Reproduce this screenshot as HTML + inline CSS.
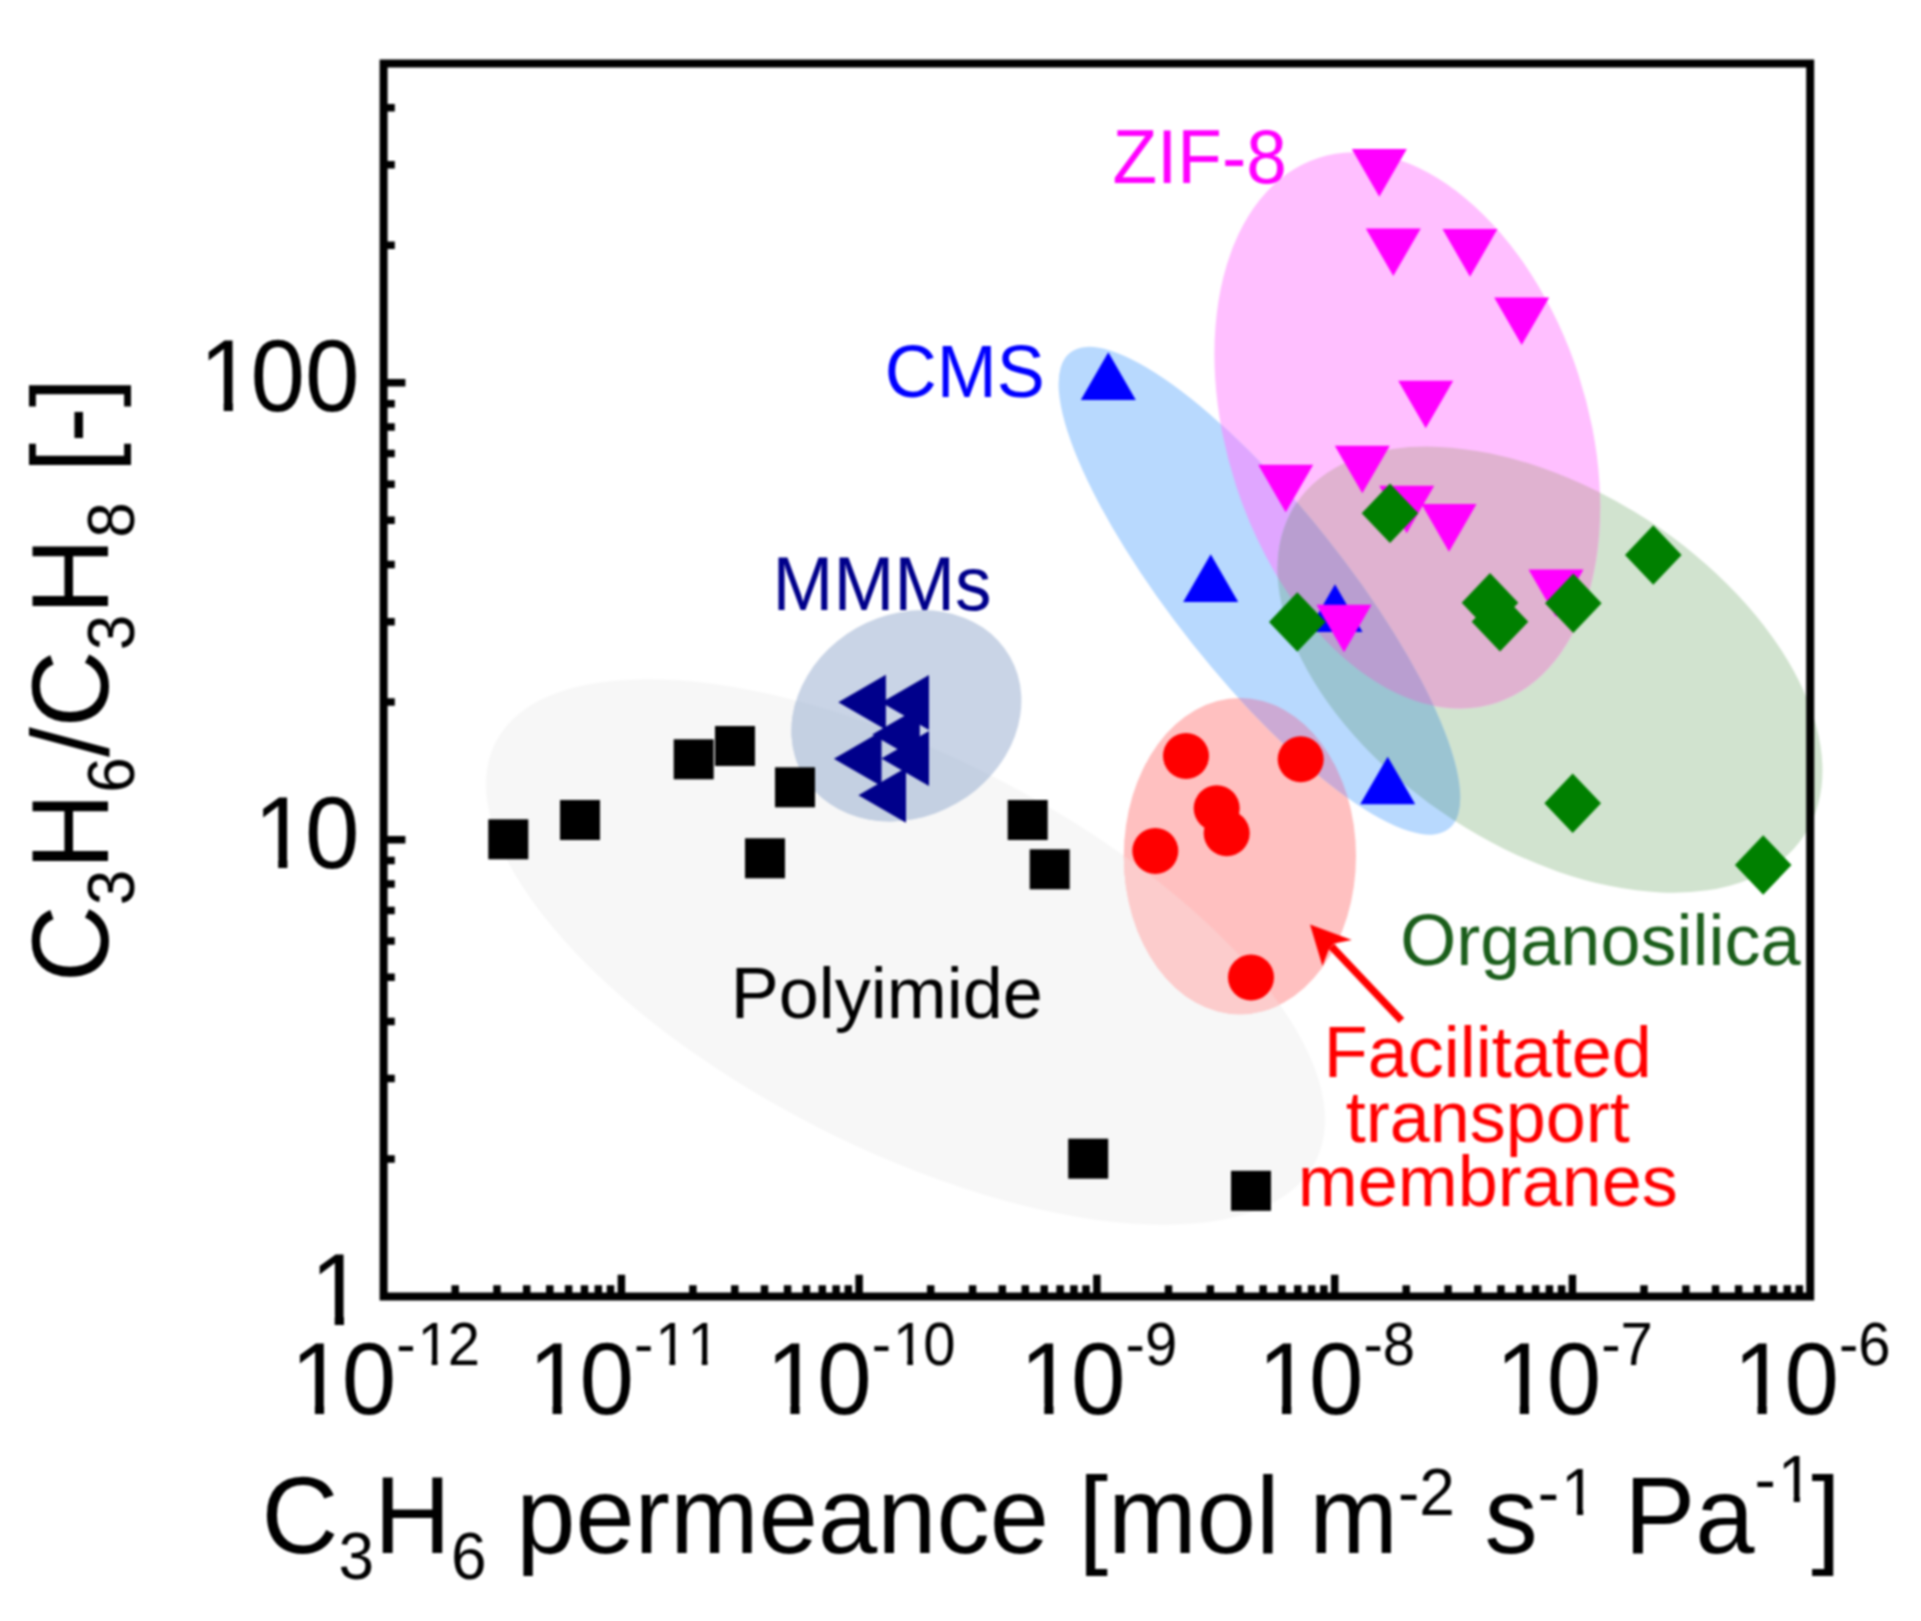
<!DOCTYPE html>
<html lang="en"><head><meta charset="utf-8"><title>C3H6/C3H8 separation performance</title>
<style>html,body{margin:0;padding:0;background:#fff;}body{width:1921px;height:1621px;overflow:hidden;}svg{display:block;filter:blur(0.9px);}text{font-family:"Liberation Sans", Arial, Helvetica, sans-serif;}</style></head><body>
<svg width="1921" height="1621" viewBox="0 0 1921 1621">
<rect width="1921" height="1621" fill="#fff"/>
<defs>
<clipPath id="cR"><ellipse cx="1239.9" cy="856.1" rx="116.1" ry="158.2"/></clipPath>
<clipPath id="cP"><ellipse cx="905.5" cy="952.0" rx="460.5" ry="196.0" transform="rotate(27.1 905.5 952.0)"/></clipPath>
<clipPath id="cMM"><ellipse cx="906.4" cy="715.7" rx="119.2" ry="100.9" transform="rotate(-29.7 906.4 715.7)"/></clipPath>
<clipPath id="cB"><ellipse cx="1259.4" cy="590.8" rx="304.2" ry="85.4" transform="rotate(51.5 1259.4 590.8)"/></clipPath>
<clipPath id="cM"><ellipse cx="1407.3" cy="430.3" rx="286.6" ry="180.0" transform="rotate(71.9 1407.3 430.3)"/></clipPath>
<clipPath id="cG"><ellipse cx="1550.0" cy="669.7" rx="303.4" ry="178.7" transform="rotate(33.0 1550.0 669.7)"/></clipPath>
</defs>
<g id="regions">
<ellipse cx="905.5" cy="952.0" rx="460.5" ry="196.0" transform="rotate(27.1 905.5 952.0)" fill="#f7f7f7"/>
<ellipse cx="1239.9" cy="856.1" rx="116.1" ry="158.2" fill="#ffc0c0"/>
<g clip-path="url(#cP)"><ellipse cx="1239.9" cy="856.1" rx="116.1" ry="158.2" fill="#fccccc"/></g>
<ellipse cx="906.4" cy="715.7" rx="119.2" ry="100.9" transform="rotate(-29.7 906.4 715.7)" fill="#c9d4e6"/>
<g clip-path="url(#cP)"><ellipse cx="906.4" cy="715.7" rx="119.2" ry="100.9" transform="rotate(-29.7 906.4 715.7)" fill="#c4d0e2"/></g>
<ellipse cx="1550.0" cy="669.7" rx="303.4" ry="178.7" transform="rotate(33.0 1550.0 669.7)" fill="#d1e3cf"/>
<ellipse cx="1407.3" cy="430.3" rx="286.6" ry="180.0" transform="rotate(71.9 1407.3 430.3)" fill="#ffbfff"/>
<ellipse cx="1259.4" cy="590.8" rx="304.2" ry="85.4" transform="rotate(51.5 1259.4 590.8)" fill="#b8d9fe"/>
<g clip-path="url(#cM)"><ellipse cx="1550.0" cy="669.7" rx="303.4" ry="178.7" transform="rotate(33.0 1550.0 669.7)" fill="#e0b2d0"/></g>
<g clip-path="url(#cB)"><ellipse cx="1407.3" cy="430.3" rx="286.6" ry="180.0" transform="rotate(71.9 1407.3 430.3)" fill="#e0a6ff"/></g>
<g clip-path="url(#cB)"><ellipse cx="1550.0" cy="669.7" rx="303.4" ry="178.7" transform="rotate(33.0 1550.0 669.7)" fill="#9bc4d2"/></g>
<g clip-path="url(#cB)"><g clip-path="url(#cM)"><ellipse cx="1550.0" cy="669.7" rx="303.4" ry="178.7" transform="rotate(33.0 1550.0 669.7)" fill="#b99ed0"/></g></g>
<g clip-path="url(#cB)"><ellipse cx="1239.9" cy="856.1" rx="116.1" ry="158.2" fill="#ccaad4"/></g>
</g>
<g id="polyimide" fill="#000">
<rect x="488.3" y="819.3" width="40" height="40"/>
<rect x="560.0" y="800.0" width="40" height="40"/>
<rect x="673.7" y="739.3" width="40" height="40"/>
<rect x="715.0" y="726.0" width="40" height="40"/>
<rect x="775.0" y="767.3" width="40" height="40"/>
<rect x="745.0" y="838.3" width="40" height="40"/>
<rect x="1007.7" y="800.0" width="40" height="40"/>
<rect x="1029.7" y="849.3" width="40" height="40"/>
<rect x="1068.2" y="1138.7" width="40" height="40"/>
<rect x="1231.0" y="1170.8" width="40" height="40"/>
</g>
<g id="ftm" fill="#ff0000">
<circle cx="1186.0" cy="756.0" r="23"/>
<circle cx="1300.7" cy="759.3" r="23"/>
<circle cx="1216.7" cy="808.3" r="23"/>
<circle cx="1226.7" cy="833.3" r="23"/>
<circle cx="1155.3" cy="851.0" r="23"/>
<circle cx="1251.0" cy="977.4" r="23"/>
</g>
<g id="cms" fill="#0000ff">
<polygon points="1108.3,352.3 1080.8,399.9 1135.8,399.9"/>
<polygon points="1210.7,554.3 1183.2,601.9 1238.2,601.9"/>
<polygon points="1335.0,584.3 1307.5,631.9 1362.5,631.9"/>
<polygon points="1387.7,756.7 1360.2,804.3 1415.2,804.3"/>
</g>
<g id="zif8" fill="#ff00ff">
<polygon points="1379.3,196.7 1351.8,149.1 1406.8,149.1"/>
<polygon points="1393.3,276.0 1365.8,228.4 1420.8,228.4"/>
<polygon points="1470.0,276.7 1442.5,229.1 1497.5,229.1"/>
<polygon points="1521.7,345.0 1494.2,297.4 1549.2,297.4"/>
<polygon points="1425.7,428.3 1398.2,380.7 1453.2,380.7"/>
<polygon points="1362.3,493.3 1334.8,445.7 1389.8,445.7"/>
<polygon points="1285.7,512.3 1258.2,464.7 1313.2,464.7"/>
<polygon points="1406.7,533.3 1379.2,485.7 1434.2,485.7"/>
<polygon points="1449.0,551.7 1421.5,504.1 1476.5,504.1"/>
<polygon points="1556.0,617.0 1528.5,569.4 1583.5,569.4"/>
<polygon points="1344.0,652.3 1316.5,604.7 1371.5,604.7"/>
</g>
<g id="organosilica" fill="#008000">
<polygon points="1390.0,483.6 1418.3,513.3 1390.0,543.0 1361.7,513.3"/>
<polygon points="1297.3,592.3 1325.6,622.0 1297.3,651.7 1269.0,622.0"/>
<polygon points="1490.0,573.0 1518.3,602.7 1490.0,632.4 1461.7,602.7"/>
<polygon points="1500.0,592.0 1528.3,621.7 1500.0,651.4 1471.7,621.7"/>
<polygon points="1573.3,573.6 1601.6,603.3 1573.3,633.0 1545.0,603.3"/>
<polygon points="1653.3,525.3 1681.6,555.0 1653.3,584.7 1625.0,555.0"/>
<polygon points="1572.7,773.6 1601.0,803.3 1572.7,833.0 1544.4,803.3"/>
<polygon points="1763.2,835.3 1791.5,865.0 1763.2,894.7 1734.9,865.0"/>
</g>
<g id="mmms" fill="#00008b">
<polygon points="838.3,702.2 885.9,674.7 885.9,729.7"/>
<polygon points="881.4,702.5 929.0,675.0 929.0,730.0"/>
<polygon points="833.9,758.8 881.5,731.3 881.5,786.3"/>
<polygon points="881.4,758.5 929.0,731.0 929.0,786.0"/>
<polygon points="858.4,795.3 906.0,767.8 906.0,822.8"/>
<polygon points="872.2,734.6 919.8,707.1 919.8,762.1"/>
</g>
<g id="axes" stroke="#000" fill="none">
<rect x="383.6" y="63.5" width="1426.6" height="1233.0" stroke-width="8.0"/>
<path d="M455.2 1296.5V1285.3M497.0 1296.5V1285.3M526.7 1296.5V1285.3M549.8 1296.5V1285.3M568.6 1296.5V1285.3M584.5 1296.5V1285.3M598.3 1296.5V1285.3M610.5 1296.5V1285.3M621.4 1296.5V1274.7M692.9 1296.5V1285.3M734.8 1296.5V1285.3M764.5 1296.5V1285.3M787.6 1296.5V1285.3M806.4 1296.5V1285.3M822.3 1296.5V1285.3M836.1 1296.5V1285.3M848.3 1296.5V1285.3M859.1 1296.5V1274.7M930.7 1296.5V1285.3M972.6 1296.5V1285.3M1002.3 1296.5V1285.3M1025.3 1296.5V1285.3M1044.2 1296.5V1285.3M1060.1 1296.5V1285.3M1073.9 1296.5V1285.3M1086.0 1296.5V1285.3M1096.9 1296.5V1274.7M1168.5 1296.5V1285.3M1210.3 1296.5V1285.3M1240.0 1296.5V1285.3M1263.1 1296.5V1285.3M1281.9 1296.5V1285.3M1297.8 1296.5V1285.3M1311.6 1296.5V1285.3M1323.8 1296.5V1285.3M1334.7 1296.5V1274.7M1406.2 1296.5V1285.3M1448.1 1296.5V1285.3M1477.8 1296.5V1285.3M1500.9 1296.5V1285.3M1519.7 1296.5V1285.3M1535.6 1296.5V1285.3M1549.4 1296.5V1285.3M1561.6 1296.5V1285.3M1572.4 1296.5V1274.7M1644.0 1296.5V1285.3M1685.9 1296.5V1285.3M1715.6 1296.5V1285.3M1738.6 1296.5V1285.3M1757.5 1296.5V1285.3M1773.4 1296.5V1285.3M1787.2 1296.5V1285.3M1799.3 1296.5V1285.3M383.6 1159.0H394.8M383.6 1078.5H394.8M383.6 1021.5H394.8M383.6 977.2H394.8M383.6 941.0H394.8M383.6 910.4H394.8M383.6 883.9H394.8M383.6 860.6H394.8M383.6 839.7H405.4M383.6 702.1H394.8M383.6 621.7H394.8M383.6 564.6H394.8M383.6 520.3H394.8M383.6 484.2H394.8M383.6 453.6H394.8M383.6 427.1H394.8M383.6 403.7H394.8M383.6 382.8H405.4M383.6 245.3H394.8M383.6 164.8H394.8M383.6 107.8H394.8" stroke-width="7.5"/>
</g>
<g id="ticklabels" fill="#000" font-size="98">
<text transform="translate(287.2 1413.5) scale(1 1.04)"><tspan dx="3.25">1</tspan><tspan dx="-3.25">0</tspan><tspan font-size="58" dy="-46.6">-<tspan dx="1.93">1</tspan><tspan dx="-1.93">2</tspan></tspan></text>
<text transform="translate(525.0 1413.5) scale(1 1.04)"><tspan dx="3.25">1</tspan><tspan dx="-3.25">0</tspan><tspan font-size="58" dy="-46.6">-<tspan dx="1.93">1</tspan><tspan dx="0.00">1</tspan></tspan></text>
<text transform="translate(762.7 1413.5) scale(1 1.04)"><tspan dx="3.25">1</tspan><tspan dx="-3.25">0</tspan><tspan font-size="58" dy="-46.6">-<tspan dx="1.93">1</tspan><tspan dx="-1.93">0</tspan></tspan></text>
<text transform="translate(1016.6 1413.5) scale(1 1.04)"><tspan dx="3.25">1</tspan><tspan dx="-3.25">0</tspan><tspan font-size="58" dy="-46.6">-9</tspan></text>
<text transform="translate(1254.4 1413.5) scale(1 1.04)"><tspan dx="3.25">1</tspan><tspan dx="-3.25">0</tspan><tspan font-size="58" dy="-46.6">-8</tspan></text>
<text transform="translate(1492.2 1413.5) scale(1 1.04)"><tspan dx="3.25">1</tspan><tspan dx="-3.25">0</tspan><tspan font-size="58" dy="-46.6">-7</tspan></text>
<text transform="translate(1729.9 1413.5) scale(1 1.04)"><tspan dx="3.25">1</tspan><tspan dx="-3.25">0</tspan><tspan font-size="58" dy="-46.6">-6</tspan></text>
<text transform="translate(196.1 411.3) scale(1 1.04)"><tspan dx="3.25">1</tspan><tspan dx="-3.25">0</tspan>0</text>
<text transform="translate(250.6 868.2) scale(1 1.04)"><tspan dx="3.25">1</tspan><tspan dx="-3.25">0</tspan></text>
<text transform="translate(307.1 1325.0) scale(1 1.04)"><tspan dx="3.25">1</tspan></text>
</g>
<text id="xtitle" transform="translate(261.6 1553) scale(1 1.03)" font-size="106.5" fill="#000">C<tspan font-size="64" dy="25.2">3</tspan><tspan dy="-25.2">H</tspan><tspan font-size="64" dy="25.2">6</tspan><tspan dy="-25.2"> permeance [mol m</tspan><tspan font-size="64" dy="-36.9">-2</tspan><tspan dy="36.9"> s</tspan><tspan font-size="64" dy="-36.9">-<tspan dx="2.1">1</tspan></tspan><tspan dy="36.9" dx="-2.1"> Pa</tspan><tspan font-size="64" dy="-49.5">-<tspan dx="2.1">1</tspan></tspan><tspan dy="49.5" dx="-2.1">]</tspan></text>
<text id="ytitle" transform="translate(108 680) rotate(-90) scale(1 1.03)" text-anchor="middle" font-size="106.7" fill="#000">C<tspan font-size="64" dy="25.2">3</tspan><tspan dy="-25.2">H</tspan><tspan font-size="64" dy="25.2">6</tspan><tspan dy="-25.2">/C</tspan><tspan font-size="64" dy="25.2">3</tspan><tspan dy="-25.2">H</tspan><tspan font-size="64" dy="25.2">8</tspan><tspan dy="-25.2"> [-]</tspan></text>
<g id="labels" font-size="72">
<text x="730.7" y="1017.8" fill="#000">Polyimide</text>
<text transform="translate(772.6 610.2) scale(1 1.03)" font-size="73" fill="#00008b">MMMs</text>
<text transform="translate(884.7 397.4) scale(1 1.04)" fill="#0000ff">CMS</text>
<text transform="translate(1112.5 182.7) scale(1 1.04)" font-size="73" fill="#ff00ff">ZIF-8</text>
<text x="1400.3" y="965.2" fill="#1b5e1b">Organosilica</text>
<g fill="#ff0000" text-anchor="middle"><text x="1487.8" y="1077.1">Facilitated</text><text x="1487.8" y="1141.8">transport</text><text x="1487.8" y="1205.8">membranes</text></g>
</g>
<g id="arrow"><path d="M1401.5 1020.5L1331.5 946.5" stroke="#ff0000" stroke-width="7.5" fill="none"/><polygon points="1310,924.6 1351.8,939.9 1334,943.5 1329,949 1322.5,966" fill="#ff0000"/></g>
<g id="footfix" fill="#fff"><rect x="295.9" y="1403.9" width="19.0" height="10.6"/><rect x="324.1" y="1403.9" width="18.1" height="10.6"/><rect x="420.6" y="1358.5" width="11.1" height="7.5"/><rect x="437.5" y="1358.5" width="10.7" height="7.5"/><rect x="533.6" y="1403.9" width="19.0" height="10.6"/><rect x="561.8" y="1403.9" width="18.1" height="10.6"/><rect x="658.4" y="1358.5" width="11.1" height="7.5"/><rect x="675.2" y="1358.5" width="10.7" height="7.5"/><rect x="690.7" y="1358.5" width="11.1" height="7.5"/><rect x="707.5" y="1358.5" width="10.7" height="7.5"/><rect x="771.4" y="1403.9" width="19.0" height="10.6"/><rect x="799.6" y="1403.9" width="18.1" height="10.6"/><rect x="896.2" y="1358.5" width="11.1" height="7.5"/><rect x="913.0" y="1358.5" width="10.7" height="7.5"/><rect x="1025.3" y="1403.9" width="19.0" height="10.6"/><rect x="1053.5" y="1403.9" width="18.1" height="10.6"/><rect x="1263.0" y="1403.9" width="19.0" height="10.6"/><rect x="1291.3" y="1403.9" width="18.1" height="10.6"/><rect x="1500.8" y="1403.9" width="19.0" height="10.6"/><rect x="1529.0" y="1403.9" width="18.1" height="10.6"/><rect x="1738.6" y="1403.9" width="19.0" height="10.6"/><rect x="1766.8" y="1403.9" width="18.1" height="10.6"/><rect x="204.7" y="401.7" width="19.0" height="10.6"/><rect x="232.9" y="401.7" width="18.1" height="10.6"/><rect x="259.2" y="858.5" width="19.0" height="10.6"/><rect x="287.4" y="858.5" width="18.1" height="10.6"/><rect x="315.7" y="1315.4" width="19.0" height="10.6"/><rect x="344.0" y="1315.4" width="18.1" height="10.6"/><rect x="1564.6" y="1508.1" width="12.3" height="7.9"/><rect x="1583.2" y="1508.1" width="11.9" height="7.9"/><rect x="1781.4" y="1495.1" width="12.3" height="7.9"/><rect x="1799.9" y="1495.1" width="11.9" height="7.9"/></g>
</svg></body></html>
